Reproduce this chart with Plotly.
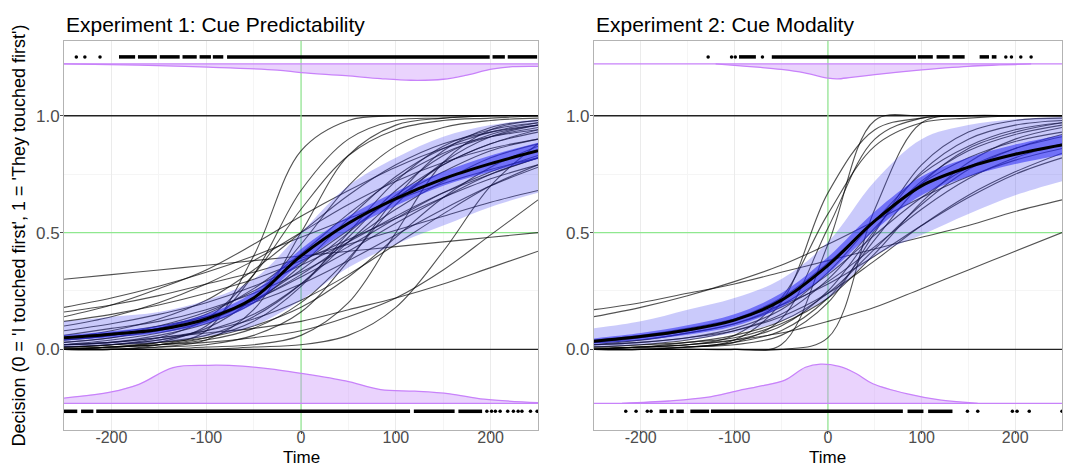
import plotly.graph_objects as go

# ---------------- data ----------------
XS = [-250, -200, -150, -100, -50, 0, 50, 100, 150, 200, 250]

P1_TITLE = "Experiment 1: Cue Predictability"
P2_TITLE = "Experiment 2: Cue Modality"
Y_TITLE = "Decision (0 = 'I touched first', 1 = 'They touched first')"
X_TITLE = "Time"
X_TICKS = [-200, -100, 0, 100, 200]
X_TICKTEXT = ["-200", "-100", "0", "100", "200"]
Y_TICKS = [0, 0.5, 1]
Y_TICKTEXT = ["0.0", "0.5", "1.0"]

# individual participant fits, experiment 1 (values at XS)
P1_CURVES = [
    [0.30, 0.32, 0.34, 0.36, 0.38, 0.40, 0.42, 0.44, 0.46, 0.48, 0.50],
    [0.02, 0.03, 0.05, 0.07, 0.09, 0.12, 0.17, 0.22, 0.28, 0.35, 0.42],
    [0.18, 0.22, 0.27, 0.33, 0.40, 0.48, 0.56, 0.64, 0.71, 0.77, 0.82],
    [0.14, 0.19, 0.26, 0.34, 0.45, 0.57, 0.68, 0.78, 0.86, 0.91, 0.94],
    [0.12, 0.15, 0.19, 0.24, 0.30, 0.38, 0.47, 0.56, 0.65, 0.73, 0.79],
    [0.00, 0.00, 0.01, 0.04, 0.17, 0.50, 0.83, 0.96, 0.99, 1.00, 1.00],
    [0.00, 0.01, 0.03, 0.10, 0.32, 0.68, 0.90, 0.98, 0.99, 1.00, 1.00],
    [0.00, 0.00, 0.02, 0.08, 0.40, 0.85, 0.98, 1.00, 1.00, 1.00, 1.00],
    [0.01, 0.02, 0.05, 0.13, 0.32, 0.60, 0.83, 0.94, 0.98, 0.99, 1.00],
    [0.05, 0.08, 0.13, 0.21, 0.34, 0.50, 0.66, 0.79, 0.88, 0.93, 0.96],
    [0.06, 0.09, 0.12, 0.17, 0.24, 0.33, 0.44, 0.56, 0.67, 0.76, 0.83],
    [0.02, 0.04, 0.07, 0.12, 0.21, 0.34, 0.50, 0.66, 0.79, 0.88, 0.93],
    [0.03, 0.05, 0.08, 0.13, 0.21, 0.32, 0.46, 0.60, 0.72, 0.82, 0.88],
    [0.01, 0.02, 0.04, 0.08, 0.15, 0.28, 0.46, 0.64, 0.79, 0.88, 0.94],
    [0.04, 0.06, 0.09, 0.14, 0.21, 0.31, 0.42, 0.54, 0.65, 0.75, 0.82],
    [0.00, 0.01, 0.02, 0.04, 0.09, 0.20, 0.39, 0.62, 0.80, 0.91, 0.96],
    [0.00, 0.00, 0.00, 0.01, 0.02, 0.06, 0.20, 0.50, 0.80, 0.94, 0.98],
    [0.00, 0.00, 0.00, 0.00, 0.01, 0.02, 0.06, 0.18, 0.42, 0.70, 0.88],
    [0.01, 0.01, 0.02, 0.03, 0.05, 0.08, 0.14, 0.22, 0.34, 0.49, 0.64],
    [0.08, 0.11, 0.15, 0.20, 0.27, 0.36, 0.46, 0.57, 0.67, 0.75, 0.82],
    [0.02, 0.03, 0.06, 0.11, 0.20, 0.36, 0.56, 0.74, 0.86, 0.93, 0.97],
    [0.03, 0.05, 0.09, 0.15, 0.26, 0.41, 0.58, 0.73, 0.84, 0.91, 0.95],
    [0.01, 0.02, 0.04, 0.09, 0.22, 0.45, 0.70, 0.87, 0.95, 0.98, 0.99],
    [0.04, 0.06, 0.10, 0.16, 0.25, 0.37, 0.51, 0.65, 0.76, 0.85, 0.90],
    [0.00, 0.01, 0.02, 0.05, 0.12, 0.27, 0.50, 0.72, 0.87, 0.94, 0.97],
    [0.05, 0.07, 0.10, 0.14, 0.20, 0.28, 0.38, 0.49, 0.60, 0.70, 0.78],
    [0.00, 0.01, 0.03, 0.06, 0.14, 0.28, 0.48, 0.68, 0.83, 0.92, 0.96],
    [0.02, 0.03, 0.05, 0.08, 0.13, 0.21, 0.32, 0.45, 0.58, 0.70, 0.79],
    [0.10, 0.14, 0.20, 0.28, 0.38, 0.50, 0.62, 0.72, 0.80, 0.86, 0.90],
    [0.00, 0.00, 0.01, 0.02, 0.06, 0.16, 0.38, 0.65, 0.85, 0.95, 0.98],
    [0.01, 0.02, 0.03, 0.05, 0.10, 0.18, 0.31, 0.48, 0.65, 0.78, 0.87],
    [0.16, 0.19, 0.23, 0.28, 0.33, 0.39, 0.45, 0.51, 0.57, 0.63, 0.68],
]
P1_MEAN = [0.05, 0.065, 0.085, 0.13, 0.22, 0.40, 0.54, 0.645, 0.73, 0.795, 0.85]
P1_INNER_HW = [0.012, 0.013, 0.015, 0.02, 0.025, 0.03, 0.03, 0.03, 0.03, 0.035, 0.035]
P1_OUTER_HI = [0.12, 0.14, 0.16, 0.21, 0.30, 0.50, 0.70, 0.82, 0.91, 0.96, 0.985]
P1_OUTER_LO = [0.01, 0.02, 0.03, 0.055, 0.10, 0.21, 0.35, 0.45, 0.53, 0.61, 0.67]

# experiment 2
P2_CURVES = [
    [0.17, 0.20, 0.24, 0.28, 0.33, 0.38, 0.43, 0.48, 0.53, 0.59, 0.64],
    [0.00, 0.01, 0.02, 0.04, 0.07, 0.12, 0.18, 0.26, 0.34, 0.42, 0.50],
    [0.14, 0.18, 0.23, 0.29, 0.36, 0.45, 0.55, 0.65, 0.74, 0.81, 0.86],
    [0.00, 0.00, 0.00, 0.00, 0.02, 0.45, 0.98, 1.00, 1.00, 1.00, 1.00],
    [0.00, 0.00, 0.00, 0.00, 0.00, 0.05, 0.60, 0.97, 1.00, 1.00, 1.00],
    [0.00, 0.00, 0.01, 0.04, 0.20, 0.67, 0.94, 0.99, 1.00, 1.00, 1.00],
    [0.00, 0.01, 0.02, 0.06, 0.22, 0.58, 0.87, 0.97, 0.99, 1.00, 1.00],
    [0.02, 0.03, 0.05, 0.09, 0.17, 0.33, 0.55, 0.75, 0.87, 0.94, 0.97],
    [0.01, 0.02, 0.04, 0.08, 0.15, 0.30, 0.52, 0.72, 0.85, 0.92, 0.96],
    [0.03, 0.05, 0.08, 0.13, 0.22, 0.37, 0.55, 0.71, 0.82, 0.89, 0.93],
    [0.02, 0.04, 0.07, 0.11, 0.18, 0.29, 0.44, 0.60, 0.73, 0.82, 0.88],
    [0.00, 0.01, 0.02, 0.04, 0.10, 0.25, 0.51, 0.76, 0.90, 0.96, 0.98],
    [0.04, 0.06, 0.09, 0.13, 0.19, 0.28, 0.40, 0.53, 0.65, 0.75, 0.82],
    [0.00, 0.00, 0.01, 0.02, 0.06, 0.20, 0.50, 0.79, 0.93, 0.98, 0.99],
    [0.01, 0.02, 0.03, 0.06, 0.12, 0.24, 0.43, 0.62, 0.77, 0.86, 0.92],
    [0.03, 0.04, 0.07, 0.11, 0.19, 0.32, 0.49, 0.65, 0.78, 0.86, 0.91],
    [0.00, 0.01, 0.01, 0.03, 0.08, 0.22, 0.47, 0.71, 0.86, 0.93, 0.97],
    [0.02, 0.03, 0.05, 0.08, 0.14, 0.24, 0.38, 0.53, 0.66, 0.76, 0.84],
    [0.01, 0.01, 0.03, 0.05, 0.11, 0.22, 0.41, 0.63, 0.80, 0.90, 0.95],
    [0.00, 0.00, 0.01, 0.03, 0.13, 0.52, 0.90, 0.99, 1.00, 1.00, 1.00],
]
P2_MEAN = [0.035, 0.055, 0.083, 0.125, 0.21, 0.36, 0.55, 0.70, 0.78, 0.835, 0.875]
P2_INNER_HW = [0.012, 0.015, 0.02, 0.025, 0.03, 0.035, 0.04, 0.04, 0.04, 0.042, 0.043]
P2_OUTER_HI = [0.09, 0.12, 0.17, 0.22, 0.30, 0.46, 0.72, 0.90, 0.96, 0.985, 0.995]
P2_OUTER_LO = [0.01, 0.02, 0.04, 0.07, 0.12, 0.22, 0.40, 0.49, 0.58, 0.66, 0.72]

# response-time densities (relative height), top = 'they first', bottom = 'I first'
P1_TOP_X = [-250, -171, -98, -25, 0, 47, 84, 116, 150, 175, 201, 223, 250]
P1_TOP_D = [0.0, 0.08, 0.20, 0.38, 0.53, 0.72, 0.90, 1.0, 0.94, 0.68, 0.32, 0.17, 0.15]
P1_BOT_X = [-250, -200, -171, -135, -98, -62, -25, 0, 47, 84, 120, 157, 193, 250]
P1_BOT_D = [0.14, 0.30, 0.50, 0.94, 1.0, 0.98, 0.88, 0.79, 0.59, 0.36, 0.32, 0.25, 0.11, 0.02]
P2_TOP_X = [-120, -100, -75, -50, -25, 0, 10, 25, 50, 75, 100, 125, 150, 175, 200, 217]
P2_TOP_D = [0.0, 0.10, 0.22, 0.37, 0.60, 0.95, 1.0, 0.90, 0.72, 0.55, 0.40, 0.27, 0.16, 0.09, 0.04, 0.0]
P2_BOT_X = [-220, -170, -130, -97, -68, -46, -24, -8, 12, 30, 48, 85, 121, 160]
P2_BOT_D = [0.0, 0.06, 0.15, 0.32, 0.46, 0.59, 0.92, 1.0, 0.94, 0.76, 0.50, 0.24, 0.08, 0.0]

# raw response times (isolated points and dense runs of points)
P1_TOP_PTS = [-237, -228, -212]
P1_TOP_RUNS = [[-192, -175], [-172, -152], [-149, -128], [-125, -110], [-107, -95],
               [-93, -82], [-78, 199], [202, 215], [218, 249]]
P1_BOT_PTS = [196, 201, 205, 210, 218, 224, 229, 233, 242, 249]
P1_BOT_RUNS = [[-250, -236], [-232, -219], [-216, 115], [119, 162], [166, 191]]
P2_TOP_PTS = [-128, -103, -99, -70, 190, 196, 206, 217]
P2_TOP_RUNS = [[-95, -77], [-60, 94], [96, 112], [116, 130], [133, 146], [162, 172], [175, 180]]
P2_BOT_PTS = [-216, -205, -193, -189, 149, 160, 197, 202, 215, 250]
P2_BOT_RUNS = [[-180, -172], [-169, -165], [-162, -154], [-147, -127], [-125, 80], [85, 102], [107, 133]]

# ---------------- style / positions ----------------
X_RANGE = [-250, 250]
Y_RANGE = [-0.345, 1.32]
TOP_BASE, BOT_BASE = 1.222, -0.231
TOP_DOT, BOT_DOT = 1.252, -0.265
P1_TOP_DEPTH, P1_BOT_HEIGHT = 0.07, 0.163
P2_TOP_DEPTH, P2_BOT_HEIGHT = 0.064, 0.168
PURPLE = "rgb(200,130,250)"
PURPLE_FILL = "rgba(200,140,250,0.38)"
X1_DOMAIN = [0, 0.475]
X2_DOMAIN = [0.531, 1]

fig = go.Figure()


def add_panel(xa, ya, curves, mean, inner_hw, outer_lo, outer_hi,
              top_x, top_d, top_depth, bot_x, bot_d, bot_height,
              top_pts, top_runs, bot_pts, bot_runs):
    common = dict(xaxis=xa, yaxis=ya, showlegend=False, hoverinfo="skip")
    # individual fits
    for c in curves:
        fig.add_trace(go.Scatter(x=XS, y=c, mode="lines",
                                 line=dict(color="rgba(0,0,0,0.68)", width=1.1, shape="spline", smoothing=1.0),
                                 **common))
    # outer ribbon
    fig.add_trace(go.Scatter(x=XS, y=outer_lo, mode="lines",
                             line=dict(width=0, shape="spline"), **common))
    fig.add_trace(go.Scatter(x=XS, y=outer_hi, mode="lines", fill="tonexty",
                             fillcolor="rgba(60,60,240,0.27)",
                             line=dict(width=0, shape="spline"), **common))
    # inner ribbon
    lo = [m - h for m, h in zip(mean, inner_hw)]
    hi = [m + h for m, h in zip(mean, inner_hw)]
    fig.add_trace(go.Scatter(x=XS, y=lo, mode="lines",
                             line=dict(width=0, shape="spline"), **common))
    fig.add_trace(go.Scatter(x=XS, y=hi, mode="lines", fill="tonexty",
                             fillcolor="rgba(40,40,245,0.55)",
                             line=dict(width=0, shape="spline"), **common))
    # mean fit
    fig.add_trace(go.Scatter(x=XS, y=mean, mode="lines",
                             line=dict(color="black", width=3, shape="spline"), **common))
    # densities
    for base in (TOP_BASE, BOT_BASE):
        fig.add_trace(go.Scatter(x=X_RANGE, y=[base, base], mode="lines",
                                 line=dict(color=PURPLE, width=1.3), **common))
    ty = [TOP_BASE - top_depth * d for d in top_d]
    fig.add_trace(go.Scatter(x=top_x + top_x[::-1], y=ty + [TOP_BASE] * len(top_x), mode="lines",
                             fill="toself", fillcolor=PURPLE_FILL, line=dict(width=0), **common))
    fig.add_trace(go.Scatter(x=top_x, y=ty, mode="lines",
                             line=dict(color=PURPLE, width=1.3, shape="spline"), **common))
    by = [BOT_BASE + bot_height * d for d in bot_d]
    fig.add_trace(go.Scatter(x=bot_x + bot_x[::-1], y=by + [BOT_BASE] * len(bot_x), mode="lines",
                             fill="toself", fillcolor=PURPLE_FILL, line=dict(width=0), **common))
    fig.add_trace(go.Scatter(x=bot_x, y=by, mode="lines",
                             line=dict(color=PURPLE, width=1.3, shape="spline"), **common))
    # raw data points
    for pts, runs, yv in ((top_pts, top_runs, TOP_DOT), (bot_pts, bot_runs, BOT_DOT)):
        fig.add_trace(go.Scatter(x=pts, y=[yv] * len(pts), mode="markers",
                                 marker=dict(color="black", size=3.5), **common))
        rx, ry = [], []
        for a, b in runs:
            rx += [a, b, None]
            ry += [yv, yv, None]
        fig.add_trace(go.Scatter(x=rx, y=ry, mode="lines",
                                 line=dict(color="black", width=3.5), **common))


add_panel("x", "y", P1_CURVES, P1_MEAN, P1_INNER_HW, P1_OUTER_LO, P1_OUTER_HI,
          P1_TOP_X, P1_TOP_D, P1_TOP_DEPTH, P1_BOT_X, P1_BOT_D, P1_BOT_HEIGHT,
          P1_TOP_PTS, P1_TOP_RUNS, P1_BOT_PTS, P1_BOT_RUNS)
add_panel("x2", "y2", P2_CURVES, P2_MEAN, P2_INNER_HW, P2_OUTER_LO, P2_OUTER_HI,
          P2_TOP_X, P2_TOP_D, P2_TOP_DEPTH, P2_BOT_X, P2_BOT_D, P2_BOT_HEIGHT,
          P2_TOP_PTS, P2_TOP_RUNS, P2_BOT_PTS, P2_BOT_RUNS)

# reference lines
REF_BLACK_Y = [0, 1]
REF_GREEN_Y = 0.5
REF_GREEN_X = 0
shapes = []
for xr, yr in (("x", "y"), ("x2", "y2")):
    for yv in REF_BLACK_Y:
        shapes.append(dict(type="line", xref=xr, yref=yr, x0=X_RANGE[0], x1=X_RANGE[1], y0=yv, y1=yv,
                           line=dict(color="#222222", width=1.4), layer="between"))
    shapes.append(dict(type="line", xref=xr, yref=yr, x0=X_RANGE[0], x1=X_RANGE[1],
                       y0=REF_GREEN_Y, y1=REF_GREEN_Y, line=dict(color="#8fe88f", width=1.2), layer="between"))
    shapes.append(dict(type="line", xref=xr, yref=yr, x0=REF_GREEN_X, x1=REF_GREEN_X,
                       y0=Y_RANGE[0], y1=Y_RANGE[1], line=dict(color="#8fe88f", width=1.2), layer="between"))

FONT = "Liberation Sans, Arial, sans-serif"
xa_common = dict(range=X_RANGE, tickvals=X_TICKS, ticktext=X_TICKTEXT, showgrid=True, automargin=False,
                 gridcolor="#ebebeb", gridwidth=1, zeroline=False, showline=True, mirror=True,
                 linecolor="#b3b3b3", linewidth=1, ticks="outside", ticklen=3, tickcolor="#4d4d4d",
                 ticklabelstandoff=-10,
                 tickfont=dict(size=16, color="#4d4d4d", family=FONT),
                 minor=dict(tickvals=[-150, -50, 50, 150], showgrid=True, gridcolor="#f5f5f5", ticks=""))
ya_common = dict(range=Y_RANGE, tickvals=Y_TICKS, ticktext=Y_TICKTEXT, showgrid=True, automargin=False,
                 gridcolor="#ebebeb", zeroline=False, showline=True, mirror=True,
                 linecolor="#b3b3b3", linewidth=1, ticks="outside", ticklen=3, tickcolor="#4d4d4d",
                 ticklabelstandoff=-3,
                 tickfont=dict(size=17, color="#4d4d4d", family=FONT),
                 minor=dict(tickvals=[0.25, 0.75], showgrid=True, gridcolor="#f5f5f5", ticks=""))

TITLE_FONT = dict(size=21, color="black", family=FONT)
AXIS_TITLE_FONT = dict(size=17, color="black", family=FONT)
Y_TITLE_FONT = dict(size=18, color="black", family=FONT)

fig.update_layout(
    width=1066, height=468,
    margin=dict(l=64, r=4, t=41, b=38),
    paper_bgcolor="white", plot_bgcolor="white",
    font=dict(family=FONT),
    shapes=shapes,
    xaxis=dict(domain=X1_DOMAIN, anchor="y", **xa_common),
    xaxis2=dict(domain=X2_DOMAIN, anchor="y2", **xa_common),
    yaxis=dict(domain=[0, 1], anchor="x", **ya_common),
    yaxis2=dict(domain=[0, 1], anchor="x2", **ya_common),
    annotations=[
        dict(text=P1_TITLE, xref="paper", yref="paper", x=X1_DOMAIN[0], y=1, xanchor="left", yanchor="bottom",
             yshift=3, showarrow=False, font=TITLE_FONT),
        dict(text=P2_TITLE, xref="paper", yref="paper", x=X2_DOMAIN[0], y=1, xanchor="left", yanchor="bottom",
             yshift=3, showarrow=False, font=TITLE_FONT),
        dict(text=X_TITLE, xref="x", yref="paper", x=0, y=0, xanchor="center", yanchor="bottom",
             yshift=-38, showarrow=False, font=AXIS_TITLE_FONT, borderpad=0),
        dict(text=X_TITLE, xref="x2", yref="paper", x=0, y=0, xanchor="center", yanchor="bottom",
             yshift=-38, showarrow=False, font=AXIS_TITLE_FONT, borderpad=0),
        dict(text=Y_TITLE, xref="paper", yref="paper", x=0, y=0.5, xanchor="center", yanchor="middle",
             xshift=-46, yshift=0, textangle=-90, showarrow=False, font=Y_TITLE_FONT),
    ],
)

fig.write_html("out.html")
